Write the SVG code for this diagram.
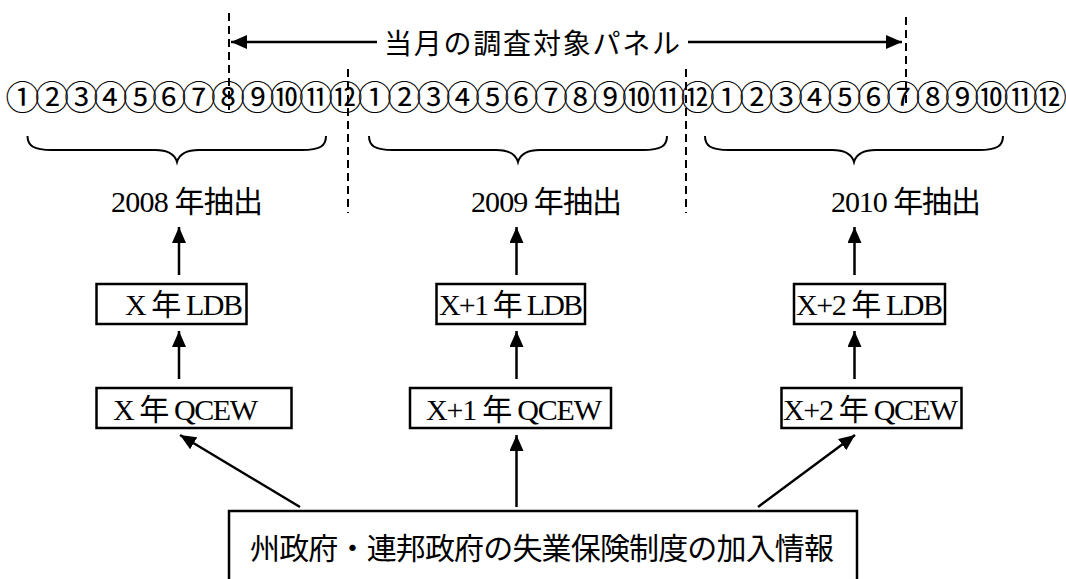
<svg xmlns="http://www.w3.org/2000/svg" width="1066" height="579" viewBox="0 0 1066 579">
<style>
  text { font-family: 'Liberation Serif', 'Noto Sans CJK JP', serif; fill: #000; }
  .t28 { font-size: 28px; }
  .t30 { font-size: 30px; }
  .circ { font-size: 34px; text-anchor: middle; }
  .box { fill: #fff; stroke: #000; stroke-width: 2.5; }
  .ln { stroke: #000; stroke-width: 2.5; fill: none; }
  .dash { stroke: #000; stroke-width: 2; stroke-dasharray: 8 5; fill: none; }
  .brace { stroke: #000; stroke-width: 2; fill: none; }
</style>
<defs>
  <marker id="ah" viewBox="0 0 16 14" refX="16" refY="7" markerWidth="16" markerHeight="14" markerUnits="userSpaceOnUse" orient="auto">
    <path d="M0,0 L16,7 L0,14 Z" fill="#000"/>
  </marker>
</defs>
<rect x="0" y="0" width="1066" height="579" fill="#fff"/>

<g id="months">
  <text class="circ" y="110" x="22.5 51.9 81.2 110.6 139.9 169.3 198.7 228.0 257.4 286.7 316.1 345.5 374.8 404.2 433.5 462.9 492.3 521.6 551.0 580.3 609.7 639.1 668.4 697.8 727.1 756.5 785.9 815.2 844.6 873.9 903.3 932.7 962.0 991.4 1020.7 1050.1">①②③④⑤⑥⑦⑧⑨⑩⑪⑫①②③④⑤⑥⑦⑧⑨⑩⑪⑫①②③④⑤⑥⑦⑧⑨⑩⑪⑫</text>
</g>

<g id="timeline">
  <line class="dash" x1="229" y1="13" x2="229" y2="110"/>
  <line class="dash" x1="348" y1="69" x2="348" y2="213"/>
  <line class="dash" x1="686" y1="69" x2="686" y2="213"/>
  <line class="dash" x1="906" y1="17" x2="906" y2="108"/>
  <text class="t28" x="384" y="54" textLength="296">当月の調査対象パネル</text>
  <path class="brace" d="M27.5,136 C27.5,146 34,150 52,150 L155,150 C168,150 175,155 177,162 C179,155 186,150 199,150 L302,150 C320,150 326,146 326,136"/>
  <path class="brace" d="M369,136 C369,146 375,150 393,150 L496,150 C509,150 516,155 518,162 C520,155 527,150 540,150 L643,150 C661,150 667,146 667,136"/>
  <path class="brace" d="M705,136 C705,146 711,150 729,150 L832,150 C845,150 852,155 854,162 C856,155 863,150 876,150 L979,150 C997,150 1003,146 1003,136"/>
</g>

<g id="panel-arrow">
  <line class="ln" x1="377" y1="42" x2="231" y2="42" marker-end="url(#ah)"/>
  <line class="ln" x1="688" y1="42" x2="902" y2="42" marker-end="url(#ah)"/>
</g>

<g id="sample2008"><text class="t30" x="111" y="212" textLength="152">2008 年抽出</text></g>
<g id="sample2009"><text class="t30" x="471" y="212" textLength="151">2009 年抽出</text></g>
<g id="sample2010"><text class="t30" x="831" y="212" textLength="150">2010 年抽出</text></g>

<g id="ldb1"><rect class="box" x="96.5" y="284" width="150" height="40"/><text class="t30" x="125" y="315" textLength="118">X 年 LDB</text></g>
<g id="ldb2"><rect class="box" x="436.5" y="284" width="148.5" height="40"/><text class="t30" x="439" y="315" textLength="144">X+1 年 LDB</text></g>
<g id="ldb3"><rect class="box" x="794" y="284" width="151" height="40"/><text class="t30" x="796" y="315" textLength="147">X+2 年 LDB</text></g>

<g id="qcew1"><rect class="box" x="96.5" y="388" width="195" height="40"/><text class="t30" x="113" y="420" textLength="145">X 年 QCEW</text></g>
<g id="qcew2"><rect class="box" x="410" y="388" width="201" height="40"/><text class="t30" x="426" y="420" textLength="176">X+1 年 QCEW</text></g>
<g id="qcew3"><rect class="box" x="781.5" y="388" width="180" height="40"/><text class="t30" x="783" y="420" textLength="175">X+2 年 QCEW</text></g>

<g id="source"><rect class="box" x="229" y="511" width="628" height="80"/><text x="250" y="559" font-size="30" textLength="584">州政府・連邦政府の失業保険制度の加入情報</text></g>

<g id="connectors">
  <line class="ln" x1="179" y1="275" x2="179" y2="227" marker-end="url(#ah)"/>
  <line class="ln" x1="516.5" y1="275" x2="516.5" y2="227" marker-end="url(#ah)"/>
  <line class="ln" x1="854.5" y1="275" x2="854.5" y2="227" marker-end="url(#ah)"/>
  <line class="ln" x1="179" y1="379" x2="179" y2="331" marker-end="url(#ah)"/>
  <line class="ln" x1="516.5" y1="379" x2="516.5" y2="331" marker-end="url(#ah)"/>
  <line class="ln" x1="854.5" y1="379" x2="854.5" y2="331" marker-end="url(#ah)"/>
  <line class="ln" x1="300" y1="507" x2="180" y2="435" marker-end="url(#ah)"/>
  <line class="ln" x1="516.5" y1="507" x2="516.5" y2="435" marker-end="url(#ah)"/>
  <line class="ln" x1="758" y1="507" x2="855" y2="435" marker-end="url(#ah)"/>
</g>
</svg>
